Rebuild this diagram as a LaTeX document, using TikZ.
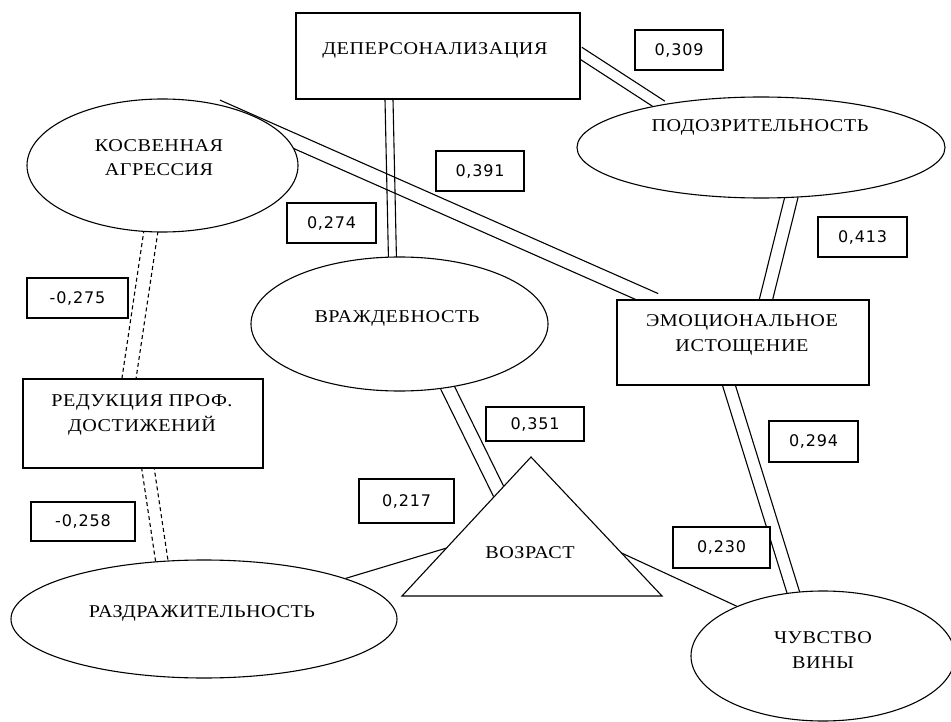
\documentclass[tikz,border=0pt]{standalone}
\usepackage{fontspec}
\newfontfamily\txtfont[FakeStretch=1.12,LetterSpace=3]{Liberation Serif}
\newfontfamily\numfont[LetterSpace=5]{DejaVu Sans}
\usetikzlibrary{shapes.geometric,calc,backgrounds}

% two parallel lines between two points, #4 = half gap
\newcommand{\dlink}[4][]{%
  \foreach \s in {-1,1}
    \draw[link,shorten <=-2pt,shorten >=-2pt,#1]
      ($(#2)!\s*#4!90:(#3)$) -- ($(#3)!\s*#4!-90:(#2)$);}

\tikzset{
  box/.style={draw,fill=white,inner sep=0pt},
  oval/.style={draw,ellipse,fill=white,inner sep=0pt},
  coef/.style={draw,fill=white,inner sep=0pt,minimum height=40pt,
    font=\numfont\fontsize{16}{19}\selectfont},
  txt/.style={align=center,inner sep=0pt,
    font=\txtfont\fontsize{18}{24.5}\selectfont},
  link/.style={line width=1.1pt},
  ddash/.style={dash pattern=on 4pt off 3pt},
}

\begin{document}
\begin{tikzpicture}[x=1pt,y=-1pt,line width=1.1pt]
  \useasboundingbox (0,0) rectangle (951,722);
  % scales
  \node[box,minimum width=284pt,minimum height=86pt] (dep) at (438,56) {};
  \node[oval,minimum width=271pt,minimum height=133pt] (kosv) at (162.5,165.5) {};
  \node[oval,minimum width=368pt,minimum height=101pt] (podoz) at (761,147.5) {};
  \node[oval,minimum width=297pt,minimum height=134pt] (vrazh) at (399.5,324) {};
  \node[box,minimum width=252pt,minimum height=85pt] (emo) at (743,342.5) {};
  \node[box,minimum width=240pt,minimum height=89pt] (redu) at (143,423.5) {};
  \node[oval,minimum width=386pt,minimum height=118pt] (razdr) at (204,619) {};
  \node[oval,minimum width=264pt,minimum height=130pt] (chuv) at (823,656) {};
  \draw[fill=white] (402,596) coordinate (vl) -- (531,457) coordinate (vt)
    -- (662,596) coordinate (vr) -- cycle;
  \coordinate (vozrL) at ($(vl)!0.75!(vt)$);
  \coordinate (vozrA) at ($(vl)!0.345!(vt)$);
  \coordinate (vozrB) at ($(vr)!0.31!(vt)$);
  % names
  \node[txt] (depT) at (435,50) {ДЕПЕРСОНАЛИЗАЦИЯ};
  \node[txt] (kosvT) at (159,157.5) {КОСВЕННАЯ\\АГРЕССИЯ};
  \node[txt] (podozT) at (760,127) {ПОДОЗРИТЕЛЬНОСТЬ};
  \node[txt] (vrazhT) at (397,318) {ВРАЖДЕБНОСТЬ};
  \node[txt] (emoT) at (742,335) {ЭМОЦИОНАЛЬНОЕ\\ИСТОЩЕНИЕ};
  \node[txt] (reduT) at (142,415) {РЕДУКЦИЯ ПРОФ.\\ДОСТИЖЕНИЙ};
  \node[txt] (razdrT) at (202,613) {РАЗДРАЖИТЕЛЬНОСТЬ};
  \node[txt] (chuvT) at (823,650) {ЧУВСТВО\\ВИНЫ};
  \node[txt] (vozr) at (530,553) {ВОЗРАСТ};
  % correlations
  \node[coef,minimum width=88pt] (c309) at (679,50) {0,309};
  \node[coef,minimum width=88pt] (c391) at (480,171) {0,391};
  \node[coef,minimum width=89pt] (c274) at (331.5,223) {0,274};
  \node[coef,minimum width=89pt] (c413) at (862.5,237) {0,413};
  \node[coef,minimum width=101pt] (c275) at (77.5,298) {-0,275};
  \node[coef,minimum width=104pt,minimum height=39pt] (c258) at (83,521.5) {-0,258};
  \node[coef,minimum width=95pt,minimum height=44pt] (c217) at (406.5,501) {0,217};
  \node[coef,minimum width=98pt,minimum height=34pt] (c351) at (535,424) {0,351};
  \node[coef,minimum width=89pt,minimum height=41pt] (c294) at (813.5,441.5) {0,294};
  \node[coef,minimum width=97pt,minimum height=41pt] (c230) at (721.5,547.5) {0,230};
  % links
  \coordinate (depS) at ([xshift=-49pt]dep.south);
  \coordinate (depE) at ([yshift=3pt]dep.east);
  \coordinate (emoN1) at ([xshift=-89.5pt]emo.north);
  \coordinate (emoN2) at ([xshift=23pt]emo.north);
  \coordinate (emoS) at ([xshift=-14pt]emo.south);
  \coordinate (reduN) at ([xshift=-14pt]redu.north);
  \coordinate (reduS) at ([xshift=5pt]redu.south);
  \begin{scope}[on background layer]
    \dlink{depS}{vrazh.96}{4pt}
    \dlink{depE}{podoz.157}{5.5pt}
    \dlink[shorten <=-75pt]{kosv.13}{emoN1}{7.25pt}
    \dlink{podoz.-59}{emoN2}{6.5pt}
    \dlink{emoS}{chuv.115}{6.2pt}
    \dlink{vrazh.-53}{vozrL}{6.8pt}
    \dlink[ddash]{kosv.-100}{reduN}{7pt}
    \dlink[ddash]{reduS}{razdr.126}{6.2pt}
    \draw[link] (vozrA) -- (razdr.16);
    \draw[link] (vozrB) -- (chuv.150);
  \end{scope}
\end{tikzpicture}
\end{document}
